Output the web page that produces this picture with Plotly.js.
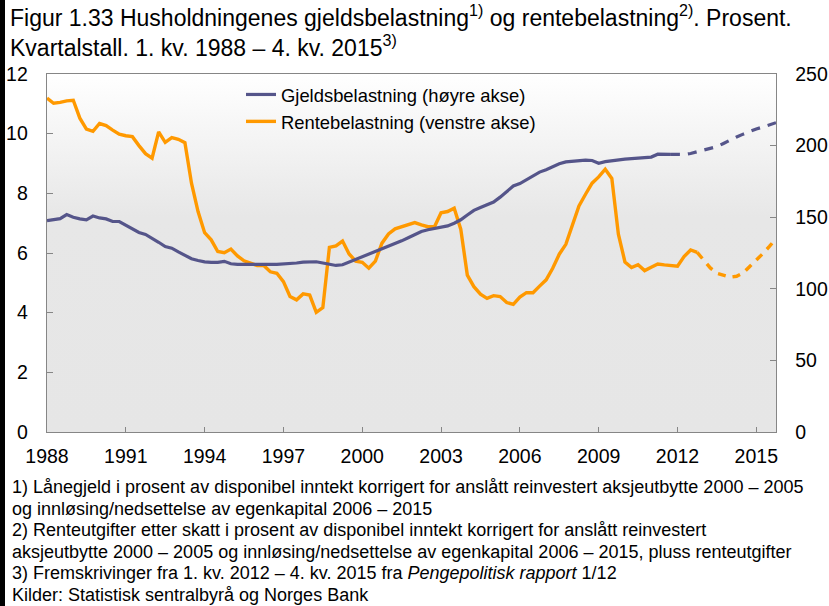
<!DOCTYPE html>
<html>
<head>
<meta charset="utf-8">
<script src="https://cdn.plot.ly/plotly-3.0.1.min.js"></script>
<style>
  html, body { margin: 0; padding: 0; background: #ffffff; }
  #wrap { position: relative; width: 829px; height: 606px; }
  #chart { width: 829px; height: 606px; }
  #edge { position: absolute; left: 0; top: 0; width: 5px; height: 606px; background: #000; }
</style>
</head>
<body>
<div id="wrap"><div id="chart"></div><div id="edge"></div></div>
<script>
// Quarterly data, first quarter = 1. kv. 1988
const startYear = 1988;

// Gjeldsbelastning (right axis), 1. kv. 1988 – 4. kv. 2011
const gjeldActual = [
  147.6, 148.5, 149.0, 151.8, 150.0, 148.8, 148.2, 150.8, 149.5, 148.8,
  147.0, 147.0, 144.5, 142.3, 139.3, 138.0, 135.5, 132.5, 129.5, 128.4,
  125.8, 123.2, 121.0, 119.8, 118.8, 118.5, 118.5, 119.2, 117.5, 117.0,
  116.9, 116.9, 116.9, 116.9, 117.0, 117.0, 117.2, 117.6, 118.0, 118.6,
  118.8, 118.9, 118.0, 117.0, 116.3, 116.8, 118.6, 120.5, 122.4, 124.3,
  126.3, 127.9, 129.6, 131.5, 133.5, 135.6, 137.7, 140.0, 141.2, 142.2,
  142.7, 143.9, 145.8, 148.2, 151.5, 154.8, 156.8, 158.7, 160.6, 164.0,
  168.0, 171.8, 173.5, 176.0, 179.0, 181.5, 183.2, 185.3, 187.3, 188.6,
  189.0, 189.8, 189.8, 189.6, 187.7, 188.8, 189.5, 190.2, 190.5, 190.9,
  191.1, 191.5, 192.0, 194.0, 194.2, 193.9
];
// Gjeldsbelastning, projection 1. kv. 2012 – 4. kv. 2015
const gjeldProj = [
  193.8, 193.8, 194.5, 195.8, 197.0, 198.0, 199.3, 201.5,
  203.9, 206.0, 208.0, 209.9, 211.6, 213.0, 214.6, 216.0
];

// Rentebelastning (left axis), 1. kv. 1988 – 4. kv. 2012
const renteActual = [
  11.19, 11.02, 11.05, 11.10, 11.12, 10.52, 10.15, 10.08, 10.34, 10.27,
  10.12, 9.98, 9.93, 9.90, 9.60, 9.33, 9.18, 10.06, 9.71, 9.87,
  9.81, 9.70, 8.34, 7.39, 6.68, 6.44, 6.05, 6.01, 6.13, 5.90,
  5.74, 5.65, 5.58, 5.58, 5.37, 5.32, 5.04, 4.54, 4.43, 4.63,
  4.59, 4.01, 4.17, 6.19, 6.24, 6.40, 5.97, 5.73, 5.69, 5.49,
  5.73, 6.33, 6.64, 6.81, 6.88, 6.95, 7.02, 6.94, 6.88, 6.88,
  7.35, 7.39, 7.50, 6.80, 5.26, 4.87, 4.62, 4.48, 4.57, 4.54,
  4.34, 4.28, 4.52, 4.67, 4.67, 4.89, 5.10, 5.49, 5.96, 6.29,
  6.91, 7.58, 7.97, 8.34, 8.55, 8.81, 8.50, 6.63, 5.70, 5.51,
  5.61, 5.41, 5.52, 5.63, 5.60, 5.58, 5.56, 5.88, 6.10, 6.02
];
// Rentebelastning, projection 1. kv. 2013 – 4. kv. 2015
const renteProj = [
  5.75, 5.50, 5.32, 5.24, 5.19, 5.22, 5.33, 5.55, 5.75, 5.98, 6.22, 6.49
];

const xTicks = [1988, 1991, 1994, 1997, 2000, 2003, 2006, 2009, 2012, 2015];
const leftTicks = [0, 2, 4, 6, 8, 10, 12];
const rightTicks = [0, 50, 100, 150, 200, 250];

const names = ['Gjeldsbelastning (høyre akse)', 'Rentebelastning (venstre akse)'];

const footnotes = [
  '1) Lånegjeld i prosent av disponibel inntekt korrigert for anslått reinvestert aksjeutbytte 2000 – 2005',
  'og innløsing/nedsettelse av egenkapital 2006 – 2015',
  '2) Renteutgifter etter skatt i prosent av disponibel inntekt korrigert for anslått reinvestert',
  'aksjeutbytte 2000 – 2005 og innløsing/nedsettelse av egenkapital 2006 – 2015, pluss renteutgifter',
  '3) Fremskrivinger fra 1. kv. 2012 – 4. kv. 2015 fra <i>Pengepolitisk rapport</i> 1/12',
  'Kilder: Statistisk sentralbyrå og Norges Bank'
];

function qx(i) { return startYear + i / 4; }
function xsFrom(start, n) { const a = []; for (let k = 0; k < n; k++) a.push(qx(start + k)); return a; }

const purple = '#55558a';
const orange = '#ff9900';

const gA = gjeldActual.length;
const rA = renteActual.length;

const traces = [
  { x: xsFrom(0, gA), y: gjeldActual, yaxis: 'y2', mode: 'lines', name: names[0],
    line: { color: purple, width: 3.2 } },
  { x: xsFrom(gA - 1, gjeldProj.length + 1), y: [gjeldActual[gA - 1]].concat(gjeldProj), yaxis: 'y2',
    mode: 'lines', showlegend: false, line: { color: purple, width: 3.2, dash: '9px,8px' } },
  { x: xsFrom(0, rA), y: renteActual, yaxis: 'y', mode: 'lines', name: names[1],
    line: { color: orange, width: 3.4 } },
  { x: xsFrom(rA - 1, renteProj.length + 1), y: [renteActual[rA - 1]].concat(renteProj), yaxis: 'y',
    mode: 'lines', showlegend: false, line: { color: orange, width: 3.4, dash: '8px,7px' } }
];

const W = 829, H = 606, L = 47, R = 53, T = 74, B = 174;
const pw = W - L - R, ph = H - T - B;

const gradSvg = '<svg xmlns="http://www.w3.org/2000/svg" width="100" height="100" preserveAspectRatio="none">' +
  '<defs><linearGradient id="g" x1="0" y1="0" x2="0" y2="1">' +
  '<stop offset="0" stop-color="#ffffff"/><stop offset="0.4" stop-color="#e7e7e7"/>' +
  '<stop offset="1" stop-color="#e6e6e6"/></linearGradient></defs>' +
  '<rect width="100" height="100" fill="url(#g)"/></svg>';

const font = 'Liberation Sans, Arial, sans-serif';
const axisColor = '#868686';

// footnote line centres (pixels from top) -> paper y
const footY = [487, 508.5, 530, 551.5, 573, 594.5];
const annotations = footnotes.map((t, k) => ({
  text: t, xref: 'paper', yref: 'paper',
  x: (10 - L) / pw, y: (T + ph - footY[k]) / ph,
  xanchor: 'left', yanchor: 'middle', align: 'left', showarrow: false,
  font: { size: 18, color: '#000000' }
}));

const layout = {
  width: W, height: H,
  margin: { l: L, r: R, t: T, b: B, pad: 0 },
  paper_bgcolor: '#ffffff',
  plot_bgcolor: 'rgba(0,0,0,0)',
  font: { family: font, color: '#000000', size: 19 },
  title: {
    text: 'Figur 1.33 Husholdningenes gjeldsbelastning<sup>1)</sup> og rentebelastning<sup>2)</sup>. Prosent.<br>Kvartalstall. 1. kv. 1988 – 4. kv. 2015<sup>3)</sup>',
    x: 10 / W, xref: 'container', xanchor: 'left',
    y: 1 - 26 / H, yref: 'container', yanchor: 'top',
    font: { family: font, size: 23, color: '#000000' }
  },
  xaxis: {
    range: [startYear, qx(111)],
    tickvals: xTicks, ticktext: xTicks.map(String),
    ticks: 'inside', ticklen: 5, tickcolor: axisColor, tickwidth: 1,
    showline: true, linecolor: axisColor, linewidth: 1.3, mirror: true,
    showgrid: false, zeroline: false,
    tickfont: { size: 19.5 }, ticklabelstandoff: 6
  },
  yaxis: {
    range: [0, 12], tickvals: leftTicks,
    ticks: 'inside', ticklen: 6, tickcolor: axisColor, tickwidth: 1,
    showline: true, linecolor: axisColor, linewidth: 1.3,
    showgrid: false, zeroline: false,
    tickfont: { size: 19.5 }, ticklabelstandoff: 14
  },
  yaxis2: {
    range: [0, 250], tickvals: rightTicks, overlaying: 'y', side: 'right',
    ticks: 'inside', ticklen: 6, tickcolor: axisColor, tickwidth: 1,
    showline: true, linecolor: axisColor, linewidth: 1.3,
    showgrid: false, zeroline: false,
    tickfont: { size: 19.5 }, ticklabelstandoff: 14
  },
  legend: {
    x: (241 - L) / pw, xanchor: 'left', y: 1 - 2 / ph, yanchor: 'top',
    bgcolor: 'rgba(0,0,0,0)', borderwidth: 0,
    font: { size: 18.4, color: '#000000' }, itemwidth: 30, tracegroupgap: 0,
    traceorder: 'normal'
  },
  images: [{
    source: 'data:image/svg+xml;charset=utf-8,' + encodeURIComponent(gradSvg),
    xref: 'paper', yref: 'paper', x: 0, y: 1, sizex: 1, sizey: 1,
    sizing: 'stretch', xanchor: 'left', yanchor: 'top', layer: 'below'
  }],
  annotations: annotations
};

Plotly.newPlot('chart', traces, layout, { staticPlot: true, displayModeBar: false });
</script>
</body>
</html>
